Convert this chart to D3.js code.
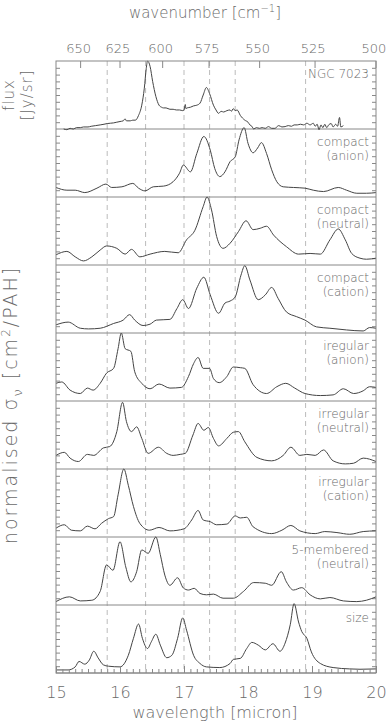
<!DOCTYPE html>
<html>
<head>
<meta charset="utf-8">
<script src="https://cdn.jsdelivr.net/npm/d3@7"></script>
<style>
  body { margin: 0; background: #fff; }
  text { font-family: "DejaVu Sans", sans-serif; font-weight: 200; fill: #6a6a6a; }
</style>
</head>
<body>
<div class="canvas"></div>
<script>
// panel names (two lines each, right aligned)
const panelLabels = [
  ["NGC 7023"],
  ["compact", "(anion)"],
  ["compact", "(neutral)"],
  ["compact", "(cation)"],
  ["iregular", "(anion)"],
  ["irregular", "(neutral)"],
  ["irregular", "(cation)"],
  ["5-membered", "(neutral)"],
  ["size"]
];

// wavelength (micron), normalised value
const ngc7023 = [[15.12,0.0],[15.17,-0.01],[15.22,0.01],[15.27,0.0],[15.32,0.02],[15.38,0.02],[15.43,0.03],[15.5,0.03],[15.55,0.04],[15.62,0.05],[15.69,0.06],[15.75,0.07],[15.8,0.08],[15.85,0.085],[15.9,0.09],[15.95,0.1],[16.0,0.11],[16.05,0.12],[16.08,0.15],[16.1,0.12],[16.16,0.12],[16.2,0.13],[16.24,0.13],[16.29,0.2],[16.34,0.35],[16.38,0.6],[16.41,0.89],[16.43,1.0],[16.47,0.92],[16.51,0.7],[16.56,0.48],[16.61,0.35],[16.65,0.32],[16.68,0.31],[16.72,0.31],[16.78,0.29],[16.83,0.29],[16.88,0.28],[16.93,0.28],[16.98,0.27],[17.0,0.28],[17.02,0.36],[17.03,0.3],[17.05,0.31],[17.1,0.32],[17.15,0.34],[17.2,0.35],[17.25,0.38],[17.3,0.5],[17.35,0.61],[17.4,0.52],[17.46,0.35],[17.5,0.28],[17.54,0.23],[17.58,0.26],[17.62,0.25],[17.67,0.27],[17.72,0.28],[17.74,0.26],[17.77,0.3],[17.8,0.27],[17.83,0.28],[17.88,0.2],[17.95,0.13],[18.0,0.1],[18.03,0.06],[18.06,0.04],[18.09,0.0],[18.13,0.02],[18.18,0.01],[18.22,0.02],[18.27,0.01],[18.32,0.035],[18.37,0.01],[18.42,0.01],[18.48,0.05],[18.53,0.03],[18.58,0.035],[18.63,0.05],[18.68,0.04],[18.72,0.06],[18.77,0.06],[18.82,0.07],[18.87,0.06],[18.92,0.085],[18.97,0.06],[19.02,0.085],[19.05,0.04],[19.08,0.07],[19.11,-0.01],[19.14,0.06],[19.17,0.02],[19.2,0.07],[19.23,0.02],[19.26,0.06],[19.3,0.08],[19.33,0.03],[19.37,0.07],[19.4,0.04],[19.43,0.17],[19.45,0.03],[19.49,0.05]];

const compactAnion = [[15.0,0.14],[15.17,0.10],[15.3,0.10],[15.45,0.065],[15.64,0.13],[15.78,0.19],[15.87,0.14],[16.03,0.15],[16.2,0.2],[16.29,0.13],[16.39,0.09],[16.52,0.15],[16.68,0.16],[16.83,0.225],[16.93,0.35],[16.99,0.47],[17.1,0.37],[17.2,0.64],[17.31,0.89],[17.41,0.69],[17.48,0.42],[17.56,0.3],[17.64,0.37],[17.72,0.52],[17.8,0.59],[17.86,0.84],[17.94,1.02],[18.0,0.79],[18.08,0.65],[18.15,0.72],[18.21,0.8],[18.29,0.64],[18.37,0.4],[18.45,0.225],[18.55,0.15],[18.71,0.14],[18.89,0.13],[19.02,0.10],[19.18,0.08],[19.41,0.14],[19.54,0.10],[19.7,0.055],[19.85,0.055],[20.0,0.065]];

const compactNeutral = [[15.0,0.15],[15.17,0.2],[15.3,0.12],[15.43,0.06],[15.56,0.12],[15.69,0.22],[15.79,0.28],[15.95,0.245],[16.08,0.16],[16.18,0.23],[16.31,0.12],[16.47,0.16],[16.7,0.2],[16.91,0.18],[17.04,0.37],[17.17,0.51],[17.3,0.86],[17.36,1.0],[17.43,0.81],[17.51,0.42],[17.61,0.245],[17.72,0.32],[17.85,0.49],[17.97,0.65],[18.08,0.52],[18.19,0.54],[18.29,0.57],[18.4,0.44],[18.6,0.27],[18.79,0.16],[18.97,0.17],[19.13,0.16],[19.28,0.37],[19.41,0.53],[19.52,0.37],[19.62,0.17],[19.75,0.1],[19.85,0.085],[20.0,0.1]];

const compactCation = [[15.0,0.12],[15.19,0.16],[15.38,0.07],[15.51,0.06],[15.69,0.07],[15.9,0.14],[16.05,0.19],[16.15,0.27],[16.23,0.19],[16.36,0.11],[16.47,0.13],[16.57,0.19],[16.78,0.2],[16.89,0.36],[16.98,0.49],[17.07,0.36],[17.2,0.66],[17.31,0.82],[17.41,0.56],[17.54,0.29],[17.64,0.44],[17.72,0.47],[17.8,0.53],[17.89,0.85],[17.95,0.99],[18.03,0.78],[18.16,0.49],[18.27,0.56],[18.37,0.67],[18.47,0.51],[18.6,0.31],[18.76,0.24],[18.89,0.19],[19.07,0.09],[19.28,0.07],[19.54,0.045],[19.8,0.03],[19.9,0.08],[20.0,0.07]];

const irregularAnion = [[15.0,0.26],[15.09,0.28],[15.22,0.16],[15.38,0.11],[15.49,0.19],[15.58,0.16],[15.69,0.26],[15.79,0.41],[15.9,0.48],[15.97,0.77],[16.02,1.0],[16.08,0.77],[16.17,0.73],[16.23,0.43],[16.34,0.26],[16.47,0.18],[16.61,0.25],[16.78,0.19],[16.96,0.2],[17.07,0.36],[17.15,0.55],[17.22,0.64],[17.3,0.48],[17.4,0.48],[17.46,0.33],[17.55,0.27],[17.67,0.36],[17.77,0.5],[17.88,0.49],[17.95,0.48],[18.08,0.24],[18.29,0.11],[18.45,0.21],[18.59,0.26],[18.73,0.19],[18.89,0.11],[19.13,0.08],[19.33,0.09],[19.49,0.18],[19.65,0.11],[19.8,0.15],[19.9,0.21],[20.0,0.2]];

const irregularNeutral = [[15.0,0.2],[15.13,0.245],[15.22,0.16],[15.35,0.11],[15.49,0.215],[15.59,0.2],[15.74,0.31],[15.84,0.33],[15.95,0.55],[16.04,0.98],[16.1,0.7],[16.18,0.55],[16.26,0.62],[16.34,0.45],[16.44,0.23],[16.6,0.32],[16.73,0.23],[16.83,0.2],[16.94,0.215],[17.02,0.23],[17.14,0.5],[17.22,0.67],[17.31,0.57],[17.38,0.61],[17.46,0.45],[17.54,0.34],[17.67,0.45],[17.77,0.54],[17.85,0.55],[17.95,0.4],[18.14,0.17],[18.37,0.12],[18.55,0.2],[18.67,0.32],[18.81,0.2],[18.92,0.215],[19.05,0.2],[19.18,0.28],[19.33,0.12],[19.52,0.075],[19.65,0.085],[19.8,0.16],[20.0,0.11]];

const irregularCation = [[15.0,0.13],[15.13,0.18],[15.24,0.1],[15.38,0.09],[15.49,0.16],[15.61,0.12],[15.71,0.2],[15.82,0.27],[15.9,0.3],[15.97,0.62],[16.06,1.0],[16.13,0.76],[16.21,0.45],[16.31,0.2],[16.46,0.1],[16.61,0.14],[16.78,0.09],[17.0,0.12],[17.12,0.25],[17.22,0.39],[17.3,0.25],[17.41,0.225],[17.51,0.18],[17.67,0.19],[17.8,0.31],[17.88,0.28],[17.98,0.29],[18.08,0.15],[18.37,0.05],[18.53,0.1],[18.67,0.17],[18.81,0.09],[19.05,0.05],[19.2,0.08],[19.39,0.065],[19.59,0.04],[19.8,0.08],[20.0,0.09]];

const fiveMembered = [[15.0,0.05],[15.21,0.12],[15.38,0.06],[15.56,0.07],[15.69,0.2],[15.79,0.59],[15.89,0.51],[16.0,0.93],[16.09,0.56],[16.17,0.34],[16.26,0.49],[16.34,0.81],[16.44,0.76],[16.56,1.0],[16.63,0.74],[16.7,0.44],[16.78,0.29],[16.9,0.4],[16.99,0.25],[17.07,0.22],[17.16,0.245],[17.25,0.17],[17.35,0.15],[17.46,0.16],[17.61,0.1],[17.77,0.1],[17.93,0.2],[18.09,0.33],[18.27,0.32],[18.37,0.29],[18.52,0.49],[18.6,0.34],[18.71,0.22],[18.84,0.255],[18.97,0.15],[19.13,0.09],[19.28,0.11],[19.49,0.06],[19.7,0.05],[19.85,0.07],[20.0,0.12]];

const sizeSeries = [[15.0,0.045],[15.19,0.045],[15.3,0.09],[15.36,0.17],[15.45,0.13],[15.52,0.19],[15.59,0.32],[15.66,0.22],[15.74,0.12],[15.82,0.1],[16.0,0.09],[16.13,0.26],[16.21,0.51],[16.29,0.72],[16.35,0.51],[16.43,0.36],[16.49,0.46],[16.56,0.57],[16.63,0.41],[16.73,0.225],[16.81,0.26],[16.9,0.51],[16.98,0.81],[17.04,0.63],[17.15,0.26],[17.25,0.14],[17.35,0.09],[17.56,0.08],[17.72,0.14],[17.77,0.2],[17.88,0.215],[17.98,0.36],[18.06,0.45],[18.16,0.41],[18.27,0.34],[18.39,0.43],[18.5,0.32],[18.58,0.44],[18.66,0.71],[18.72,1.02],[18.79,0.75],[18.84,0.61],[18.92,0.51],[18.99,0.31],[19.13,0.14],[19.33,0.08],[19.59,0.06],[19.75,0.055],[20.0,0.06]];

const allSeries = [ngc7023, compactAnion, compactNeutral, compactCation,
  irregularAnion, irregularNeutral, irregularCation, fiveMembered, sizeSeries];

// dashed feature positions (micron)
const featureLines = [15.8, 16.4, 17.0, 17.4, 17.8, 18.9];
// top axis wavenumbers (cm^-1)
const wavenumberTicks = [650, 625, 600, 575, 550, 525, 500];
const wavelengthTicks = [15, 16, 17, 18, 19, 20];

const width = 390, height = 723;
const margins = {top: 61, left: 56, bottom: 50, right: 14};

const svg = d3.select(".canvas").append("svg")
  .attr("width", width).attr("height", height);

const x = d3.scaleLinear().domain([15, 20]).range([margins.left, width - margins.right]);
const band = d3.scaleBand().domain(d3.range(allSeries.length))
  .range([margins.top, height - margins.bottom]);
const plotTop = margins.top, plotBottom = height - margins.bottom;

// dashed lines
svg.append("g").selectAll("line").data(featureLines).enter().append("line")
  .attr("x1", d => x(d)).attr("x2", d => x(d))
  .attr("y1", plotTop).attr("y2", plotBottom)
  .attr("stroke", "#bbb").attr("stroke-width", 1)
  .attr("stroke-dasharray", "5,4");

const line = d3.line().x(d => x(d[0])).curve(d3.curveMonotoneX);

allSeries.forEach((series, i) => {
  const top = band(i), bottom = band(i) + band.bandwidth();
  const y = d3.scaleLinear().domain([0, 1]).range([bottom, top]);
  const g = svg.append("g");

  // panel separator
  g.append("line").attr("x1", x(15)).attr("x2", x(20))
    .attr("y1", bottom).attr("y2", bottom)
    .attr("stroke", "#888").attr("stroke-width", 1);

  // inward ticks on both sides
  const tv = d3.range(1, 10).map(v => v / 10);
  g.append("g").attr("transform", "translate(" + x(15) + ",0)")
    .call(d3.axisLeft(y).tickValues(tv).tickSize(-4).tickFormat(""))
    .call(a => a.select(".domain").remove())
    .selectAll("line").attr("stroke", "#888");
  g.append("g").attr("transform", "translate(" + x(20) + ",0)")
    .call(d3.axisRight(y).tickValues(tv).tickSize(-4).tickFormat(""))
    .call(a => a.select(".domain").remove())
    .selectAll("line").attr("stroke", "#888");

  g.append("path").datum(series)
    .attr("d", line.y(d => y(d[1])))
    .attr("fill", "none").attr("stroke", "#444").attr("stroke-width", 1);

  const lbl = g.append("text").attr("text-anchor", "end")
    .attr("font-size", 12);
  panelLabels[i].forEach((t, k) => {
    lbl.append("tspan").attr("x", x(20) - 7).attr("y", top + 17 + k * 14).text(t);
  });
});

// frame
svg.append("rect").attr("x", x(15)).attr("y", plotTop)
  .attr("width", x(20) - x(15)).attr("height", plotBottom - plotTop)
  .attr("fill", "none").attr("stroke", "#888").attr("stroke-width", 1);

// bottom axis: minor and major ticks pointing in
const bottomAxis = svg.append("g").attr("transform", "translate(0," + plotBottom + ")");
bottomAxis.call(d3.axisBottom(x).ticks(50).tickSize(-4).tickFormat(""))
  .call(a => a.select(".domain").remove())
  .selectAll("line").attr("stroke", "#888");
const bottomMajor = svg.append("g").attr("transform", "translate(0," + plotBottom + ")")
  .call(d3.axisBottom(x).tickValues(wavelengthTicks).tickSize(-7).tickPadding(14).tickFormat(d3.format("d")));
bottomMajor.select(".domain").remove();
bottomMajor.selectAll("line").attr("stroke", "#888");
bottomMajor.selectAll("text").attr("font-size", 16).attr("fill", "#6a6a6a")
  .attr("font-family", "DejaVu Sans").attr("font-weight", 200);

// top axis in wavenumber
const topAxis = svg.append("g");
topAxis.selectAll("line").data(wavenumberTicks).enter().append("line")
  .attr("x1", d => x(10000 / d)).attr("x2", d => x(10000 / d))
  .attr("y1", plotTop).attr("y2", plotTop + 7)
  .attr("stroke", "#888");
topAxis.selectAll("text").data(wavenumberTicks).enter().append("text")
  .attr("x", d => x(10000 / d) - 2).attr("y", plotTop - 8)
  .attr("text-anchor", "middle").attr("font-size", 13)
  .text(d => d);

// axis titles
const topTitle = svg.append("text").attr("x", 205).attr("y", 18)
  .attr("text-anchor", "middle").attr("font-size", 15);
topTitle.append("tspan").text("wavenumber [cm");
topTitle.append("tspan").attr("dy", -6).attr("font-size", 10).text("\u22121");
topTitle.append("tspan").attr("dy", 6).text("]");

svg.append("text").attr("x", 215).attr("y", 718)
  .attr("text-anchor", "middle").attr("font-size", 16)
  .text("wavelength [micron]");

const yTitle = svg.append("text")
  .attr("transform", "translate(17,405) rotate(-90)")
  .attr("text-anchor", "middle").attr("font-size", 19)
  .attr("letter-spacing", 2);
yTitle.append("tspan").text("normalised ");
yTitle.append("tspan").text("\u03c3");
yTitle.append("tspan").attr("dy", 5).attr("font-size", 13).text("\u03bd");
yTitle.append("tspan").attr("dy", -5).text(" [cm");
yTitle.append("tspan").attr("dy", -7).attr("font-size", 12).text("2");
yTitle.append("tspan").attr("dy", 7).text("/PAH]");

const fluxTitle = svg.append("text")
  .attr("transform", "translate(0,95) rotate(-90)")
  .attr("text-anchor", "middle").attr("font-size", 15)
  .attr("letter-spacing", 1);
fluxTitle.append("tspan").attr("x", 0).attr("y", 14).text("flux");
fluxTitle.append("tspan").attr("x", 0).attr("y", 32).text("[Jy/sr]");
</script>
</body>
</html>
